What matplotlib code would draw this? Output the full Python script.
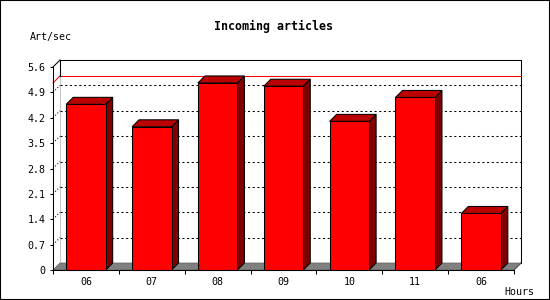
import matplotlib
matplotlib.use('Agg')
import matplotlib.pyplot as plt
from matplotlib.patches import Polygon, Rectangle

# data
hours = ['06', '07', '08', '09', '10', '11', '06']
rate = [4.57, 3.95, 5.16, 5.07, 4.10, 4.76, 1.56]
yticks = [0, 0.7, 1.4, 2.1, 2.8, 3.5, 4.2, 4.9, 5.6]
ymax = 5.6

mono = 'DejaVu Sans Mono'
fig = plt.figure(figsize=(5.5, 3), dpi=100)
ax = fig.add_axes([53 / 550, 30 / 300, 461 / 550, 203 / 300])
ax.set_xlim(0, len(rate))
ax.set_ylim(0, ymax)
ax.patch.set_visible(False)
for s in ['top', 'right']:
    ax.spines[s].set_visible(False)
for s in ['left', 'bottom']:
    ax.spines[s].set_linewidth(0.75)
    ax.spines[s].set_zorder(10)

# depth of the 3d effect: 7 px right and up, in data units
p0 = ax.transData.transform((0, 0))
dx, dy = ax.transData.inverted().transform(p0 + [7, 7])
n = len(rate)

# back wall
ax.add_patch(Rectangle((dx, dy), n, ymax, facecolor='white', edgecolor='none', zorder=0, clip_on=False))
ax.plot([dx, n + dx], [ymax + dy, ymax + dy], color='black', lw=0.75, clip_on=False, zorder=1)
ax.plot([n + dx, n + dx], [dy, ymax + dy], color='black', lw=0.75, clip_on=False, zorder=1)
ax.plot([0, dx], [ymax, ymax + dy], color='black', lw=0.75, clip_on=False, zorder=1)
ax.plot([n, n + dx], [0, dy], color='black', lw=0.75, clip_on=False, zorder=1)
ax.plot([dx, dx], [dy, ymax + dy], color='#c8c8c8', lw=0.75, clip_on=False, zorder=1)

# dotted grid on back wall and side
for t in yticks[1:-1]:
    ax.plot([dx, n + dx], [t + dy, t + dy], color='black', lw=0.75, ls=(0, (2, 2.5)), clip_on=False, zorder=1)
    ax.plot([0, dx], [t, t + dy], color='black', lw=0.75, ls=(0, (1, 2)), clip_on=False, zorder=1)

# max line
m = max(rate)
ax.plot([dx, n + dx], [m + dy, m + dy], color='red', lw=0.75, clip_on=False, zorder=2)
ax.plot([0, dx], [m, m + dy], color='red', lw=0.75, clip_on=False, zorder=2)
ax.plot([dx, dx], [m + dy, ymax + dy], color='black', lw=0.75, clip_on=False, zorder=2)

# floor
ax.add_patch(Polygon([(0, 0), (n, 0), (n + dx, dy), (dx, dy)], closed=True,
                     facecolor='#808080', edgecolor='#606060', lw=0.5, zorder=3, clip_on=False))

# bars
w = 0.6
for i, v in enumerate(rate):
    x0 = i + (1 - w) / 2
    x1 = x0 + w
    kw = dict(closed=True, edgecolor='black', lw=0.75, zorder=4 + i * 0.1, clip_on=False)
    ax.add_patch(Polygon([(x1, 0), (x1 + dx, dy), (x1 + dx, v + dy), (x1, v)], facecolor='#800000', **kw))
    ax.add_patch(Polygon([(x0, v), (x1, v), (x1 + dx, v + dy), (x0 + dx, v + dy)], facecolor='#bb0000', **kw))
    ax.add_patch(Polygon([(x0, 0), (x1, 0), (x1, v), (x0, v)], facecolor='#ff0000', **kw))

# axes ticks and labels
ax.set_yticks(yticks)
ax.set_yticklabels(['0' if t == 0 else f'{t:.1f}' for t in yticks], fontfamily=mono, fontsize=7.2)
ax.tick_params(axis='y', length=2.5, width=0.75, pad=3)
ax.set_xticks(range(n + 1))
ax.set_xticklabels([])
ax.tick_params(axis='x', which='major', length=3, width=0.75)
ax.set_xticks([i + 0.5 for i in range(n)], minor=True)
ax.set_xticklabels(hours, minor=True, fontfamily=mono, fontsize=7.2)
ax.tick_params(axis='x', which='minor', length=0, pad=5)

fig.text(274 / 550, 1 - 26 / 300, 'Incoming articles', ha='center', va='center',
         fontfamily=mono, fontsize=8.4, fontweight='bold')
fig.text(30 / 550, 1 - 37 / 300, 'Art/sec', ha='left', va='center', fontfamily=mono, fontsize=7.2)
fig.text(534 / 550, 1 - 292 / 300, 'Hours', ha='right', va='center', fontfamily=mono, fontsize=7.2)

fig.patches.append(Rectangle((0, 0), 1, 1, transform=fig.transFigure, fill=False,
                             edgecolor='black', lw=1.5, figure=fig))

fig.savefig('out.png', dpi=100, facecolor='white')
